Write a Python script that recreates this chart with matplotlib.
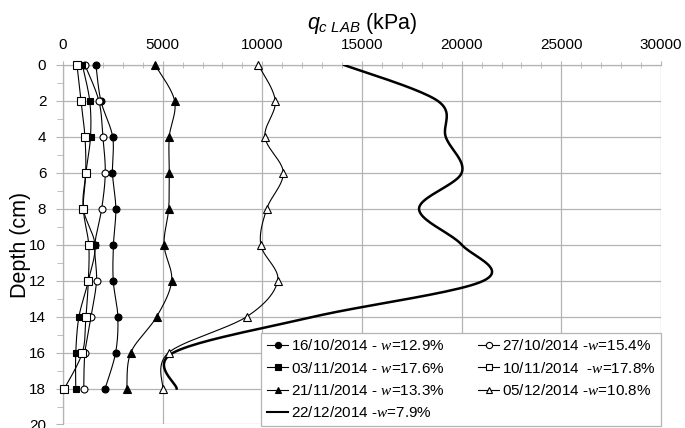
import numpy as np
import matplotlib
matplotlib.use("Agg")
import matplotlib.pyplot as plt
from matplotlib.lines import Line2D

plt.rcParams['font.family'] = ['Liberation Sans', 'DejaVu Sans']
plt.rcParams['mathtext.fontset'] = 'custom'
plt.rcParams['mathtext.rm'] = 'Liberation Sans'
plt.rcParams['mathtext.it'] = 'Liberation Sans:italic'
plt.rcParams['mathtext.cal'] = 'Liberation Serif:italic'

depth = [0, 2, 4, 6, 8, 10, 12, 14, 16, 18]
qc_1610 = [1650, 1900, 2490, 2480, 2650, 2530, 2520, 2750, 2640, 2110]
qc_2710 = [1100, 1800, 2000, 2120, 1940, 1600, 1680, 1400, 1100, 1040]
qc_0311 = [970, 1340, 1380, 1150, 1020, 1600, 1270, 800, 640, 640]
qc_1011 = [700, 900, 1100, 1140, 1020, 1290, 1270, 1150, 970, 70]
qc_2111 = [4620, 5600, 5330, 5330, 5300, 5070, 5450, 4700, 3400, 3200]
qc_0512 = [9800, 10650, 10130, 11050, 10220, 9920, 10770, 9220, 5300, 5000]
qc_2212 = [14100, 18800, 19200, 20000, 17860, 20000, 21100, 12600, 5540, 5700]

labels = {
    '1610': r"16/10/2014 - $\mathcal{w}$=12.9%",
    '2710': r"27/10/2014 -$\mathcal{w}$=15.4%",
    '0311': r"03/11/2014 - $\mathcal{w}$=17.6%",
    '1011': r"10/11/2014  -$\mathcal{w}$=17.8%",
    '2111': r"21/11/2014 - $\mathcal{w}$=13.3%",
    '0512': r"05/12/2014 -$\mathcal{w}$=10.8%",
    '2212': r"22/12/2014 -$\mathcal{w}$=7.9%",
}
xticks = [0, 5000, 10000, 15000, 20000, 25000, 30000]
yticks = [0, 2, 4, 6, 8, 10, 12, 14, 16, 18, 20]


def smooth(xs, ys, n=24):
    """Excel-like smoothed line (Bezier with 1/6 neighbour tangents)."""
    P = np.column_stack([xs, ys]).astype(float)
    m = len(P)
    out = [P[0]]
    t = np.linspace(0, 1, n)[1:, None]
    for i in range(m - 1):
        p0 = P[i]
        p3 = P[i + 1]
        pm = P[i - 1] if i > 0 else P[i]
        pp = P[i + 2] if i + 2 < m else P[i + 1]
        p1 = p0 + (p3 - pm) / 6.0
        p2 = p3 - (pp - p0) / 6.0
        seg = ((1 - t) ** 3) * p0 + 3 * ((1 - t) ** 2) * t * p1 + 3 * (1 - t) * t ** 2 * p2 + t ** 3 * p3
        out.extend(seg)
    out = np.array(out)
    return out[:, 0], out[:, 1]


fig = plt.figure(figsize=(6.85, 4.28), dpi=100)
ax = fig.add_axes([0.092, 0.0082, 0.873, 0.840])

grey = '#b4b4b4'
series = [
    ('1610', qc_1610, 'o', 'black', 5.0),
    ('2710', qc_2710, 'o', 'white', 5.0),
    ('0311', qc_0311, 's', 'black', 5.0),
    ('1011', qc_1011, 's', 'white', 5.2),
    ('2111', qc_2111, '^', 'black', 5.6),
    ('0512', qc_0512, '^', 'white', 5.6),
]
handles = {}
for key, vals, mk, fc, ms in series:
    sx, sy = smooth(vals, depth)
    ax.plot(sx, sy, color='black', lw=0.8, zorder=3)
    ax.plot(vals, depth, ls='none', marker=mk, ms=ms, mfc=fc, mec='black', mew=0.8,
            zorder=4, clip_on=False)
    handles[key] = Line2D([], [], color='black', lw=0.8, marker=mk, ms=4.5, mfc=fc, mec='black', mew=0.8)

sx, sy = smooth(qc_2212, depth)
ax.plot(sx, sy, color='black', lw=1.8, zorder=3)
handles['2212'] = Line2D([], [], color='black', lw=1.5)

ax.set_xlim(0, 30000)
ax.set_ylim(20, 0)
ax.xaxis.tick_top()
ax.xaxis.set_label_position('top')
ax.set_xticks(xticks)
ax.set_xticks(np.arange(0, 30001, 1000), minor=True)
ax.set_yticks(yticks)
ax.set_yticks(np.arange(1, 20, 2), minor=True)
ax.grid(True, which='major', color=grey, lw=0.9)
ax.set_axisbelow(True)
for s in ['top', 'left']:
    ax.spines[s].set_color(grey)
    ax.spines[s].set_linewidth(0.9)
for s in ['right', 'bottom']:
    ax.spines[s].set_visible(False)
ax.tick_params(axis='x', which='major', length=3, color=grey, labelsize=11, pad=6)
ax.tick_params(axis='x', which='minor', length=4, color=grey, direction='inout')
ax.tick_params(axis='y', which='major', length=5, color=grey, labelsize=11, pad=7)
ax.tick_params(axis='y', which='minor', length=4, color=grey)

ax.set_xlabel(r"$q_{c\ LAB}$ (kPa)", fontsize=15.5, labelpad=7)
ax.set_ylabel("Depth (cm)", fontsize=15.5, labelpad=-1)

order = ['1610', '0311', '2111', '2212', '2710', '1011', '0512']
leg = ax.legend([handles[k] for k in order], [labels[k] for k in order], ncol=2,
                loc='lower right', bbox_to_anchor=(1.0, -0.005), fontsize=11,
                frameon=True, fancybox=False, framealpha=1, edgecolor=grey,
                handlelength=1.4, handletextpad=0.15, columnspacing=2.2,
                labelspacing=0.48, borderpad=0.38, borderaxespad=0.0)
leg.get_frame().set_linewidth(0.9)
leg.set_zorder(10)

fig.savefig('out.png', dpi=100)
